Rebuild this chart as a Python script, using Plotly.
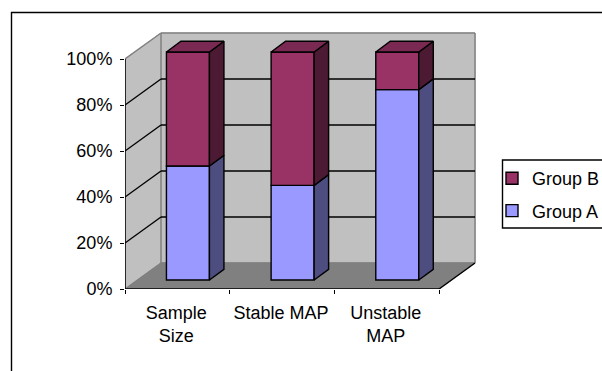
import plotly.graph_objects as go

categories = ["Sample<br>Size", "Stable MAP", "Unstable<br>MAP"]
group_a = [50, 41.5, 83.5]
group_b = [50, 58.5, 16.5]
y_ticks = [0, 20, 40, 60, 80, 100]
y_labels = ["0%", "20%", "40%", "60%", "80%", "100%"]

FIG_W, FIG_H = 602, 371
L, R, T, B = 125, 122, 28, 82
PW, PH = FIG_W - L - R, FIG_H - T - B
PX_X = 104.67
PX_Y = 2.3
x0_axis = -0.5
x1_axis = 2.5
WALL_DX = 36 / PX_X
WALL_DY = 26 / PX_Y
BAR_OX = 10.6 / PX_X
BAR_OY = 9 / PX_Y
BAR_W = 43 / PX_X
BAR_DX = 14.5 / PX_X
BAR_DY = 10.7 / PX_Y
BAR_SCALE = 228 / 230
LABEL_DX = -1 / PX_X
FONT = dict(family="Liberation Sans, Arial, sans-serif", size=18, color="black")

A_FRONT, A_SIDE = "#9999ff", "#4d4d80"
B_FRONT, B_SIDE, B_TOP = "#993366", "#4d1a33", "#7a2952"
WALL, FLOOR, EDGE = "#c0c0c0", "#808080", "#808080"

xmax = x0_axis + PW / PX_X
ymax = PH / PX_Y


def poly(pts, fill, layer="below"):
    path = "M" + " L".join(f"{x},{y}" for x, y in pts) + " Z"
    return dict(type="path", path=path, xref="x", yref="y", fillcolor=fill, layer=layer,
                line=dict(color=fill, width=1))


def seg(x0, y0, x1, y1, color="black", width=1.4, layer="below"):
    return dict(type="line", x0=x0, y0=y0, x1=x1, y1=y1, xref="x", yref="y", layer=layer,
                line=dict(color=color, width=width))


xb0, xb1 = x0_axis + WALL_DX, x1_axis + WALL_DX
shapes = [
    dict(type="rect", xref="paper", yref="paper",
         x0=(11.5 - L) / PW, x1=1.6,
         y1=1 + (T - 12.5) / PH, y0=-0.6,
         line=dict(color="black", width=1.4), fillcolor="white", layer="below"),
    dict(type="rect", xref="paper", yref="paper",
         x0=(502.5 - L) / PW, x1=(610 - L) / PW,
         y1=1 - (160 - T) / PH, y0=1 - (228 - T) / PH,
         line=dict(color="black", width=1.4), fillcolor="white", layer="below"),
    poly([(x0_axis, 100), (xb0, 100 + WALL_DY), (xb0, WALL_DY), (x0_axis, 0)], WALL),
    poly([(xb0, WALL_DY), (xb1, WALL_DY), (xb1, 100 + WALL_DY), (xb0, 100 + WALL_DY)], WALL),
    poly([(x0_axis, 0), (xb0, WALL_DY), (xb1, WALL_DY), (x1_axis, 0)], FLOOR),
    seg(x0_axis, 100, xb0, 100 + WALL_DY, EDGE, 1.5),
    seg(xb0, 100 + WALL_DY, xb1, 100 + WALL_DY, EDGE, 1.5),
    seg(xb1, 100 + WALL_DY, xb1, WALL_DY, EDGE, 1.5),
    seg(xb0, WALL_DY, xb0, 100 + WALL_DY, EDGE, 1.5),
    seg(xb0, WALL_DY, xb1, WALL_DY, EDGE, 1.5),
    seg(x0_axis, 0, xb0, WALL_DY, EDGE, 1.2),
]
for v in y_ticks[1:-1]:
    shapes.append(seg(x0_axis, v, xb0, v + WALL_DY))
    shapes.append(seg(xb0, v + WALL_DY, xb1, v + WALL_DY))
shapes.append(seg(x1_axis, 0, xb1, WALL_DY))

fig = go.Figure()
xs = [i + BAR_OX for i in range(len(categories))]
h_a = [v * BAR_SCALE for v in group_a]
h_b = [v * BAR_SCALE for v in group_b]
ys_a = [BAR_OY] * len(xs)
ys_b = [BAR_OY + a for a in h_a]
fig.add_bar(x=xs, y=h_a, base=ys_a, width=BAR_W, name="Group A", legendgroup="a", legendrank=2,
            marker=dict(color=A_FRONT, line=dict(color="black", width=1.4)))
fig.add_bar(x=xs, y=h_b, base=ys_b, width=BAR_W, name="Group B", legendgroup="b", legendrank=1,
            marker=dict(color=B_FRONT, line=dict(color="black", width=1.4)))


def face(pts, fill):
    fig.add_scatter(x=[p[0] for p in pts] + [pts[0][0]], y=[p[1] for p in pts] + [pts[0][1]],
                    mode="lines", fill="toself", fillcolor=fill,
                    line=dict(color="black", width=1.4), showlegend=False, hoverinfo="skip")


for x, a, b in zip(xs, h_a, h_b):
    r = x + BAR_W / 2
    l = x - BAR_W / 2
    y0, y1 = BAR_OY, BAR_OY + a
    y2 = y1 + b
    face([(r, y0), (r + BAR_DX, y0 + BAR_DY), (r + BAR_DX, y1 + BAR_DY), (r, y1)], A_SIDE)
    face([(r, y1), (r + BAR_DX, y1 + BAR_DY), (r + BAR_DX, y2 + BAR_DY), (r, y2)], B_SIDE)
    face([(l, y2), (l + BAR_DX, y2 + BAR_DY), (r + BAR_DX, y2 + BAR_DY), (r, y2)], B_TOP)

# front axis lines, drawn unclipped so their full width shows
for xx, yy in (([x0_axis, x1_axis], [0, 0]), ([x0_axis, x0_axis], [0, 100])):
    fig.add_scatter(x=xx, y=yy, mode="lines", line=dict(color="black", width=1.6),
                    showlegend=False, hoverinfo="skip", cliponaxis=False)

fig.update_layout(
    width=FIG_W, height=FIG_H, paper_bgcolor="white", plot_bgcolor="rgba(0,0,0,0)",
    margin=dict(l=L, r=R, t=T, b=B, pad=0, autoexpand=False),
    barmode="overlay", shapes=shapes, font=FONT,
    legend=dict(x=(502 - L) / PW, xanchor="left",
                y=1 - (160 - T) / PH, yanchor="top",
                traceorder="grouped", tracegroupgap=6, indentation=-10,
                borderwidth=0, bgcolor="rgba(0,0,0,0)", font=FONT, itemclick=False),
    xaxis=dict(range=[x0_axis, xmax], showgrid=False, zeroline=False, showline=False,
               tickmode="array", tickvals=[i + LABEL_DX for i in range(len(categories))],
               ticktext=categories,
               ticks="", tickfont=FONT, ticklabelstandoff=11,
               minor=dict(tickmode="array", tickvals=[i - 0.5 for i in range(len(categories) + 1)],
                          ticks="outside", ticklen=4, tickwidth=1.4, tickcolor="black", showgrid=False)),
    yaxis=dict(range=[0, ymax], showgrid=False, zeroline=False, showline=False,
               tickmode="array", tickvals=y_ticks, ticktext=y_labels,
               ticks="outside", ticklen=4, tickwidth=1.4, tickcolor="black", tickfont=FONT,
               ticklabelstandoff=4),
)

fig.write_html("out.html", config=dict(displayModeBar=False),
               post_script="document.body.style.margin='0';")
